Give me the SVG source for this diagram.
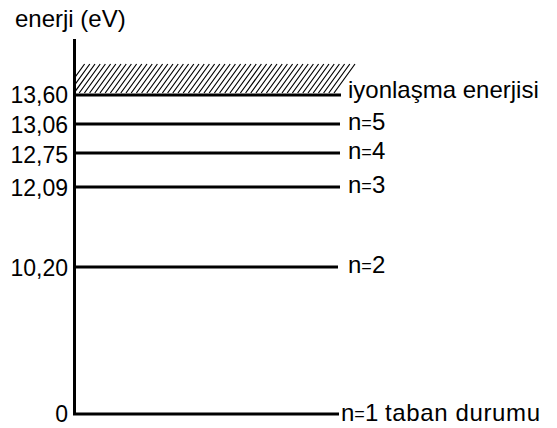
<svg xmlns="http://www.w3.org/2000/svg" width="557" height="428" viewBox="0 0 557 428">
<style>
text{font-family:"Liberation Sans",Arial,sans-serif;font-size:24px;fill:#000}
.l{text-anchor:end;font-size:23px}
.eq{font-size:18px}
.lv{stroke:#000;stroke-width:3;fill:none}
.h{stroke:#000;stroke-width:1.2;fill:none}
</style>
<defs>
<clipPath id="hc"><rect x="75" y="60" width="300" height="36"/></clipPath>
</defs>
<rect width="557" height="428" fill="#fff"/>
<text x="15" y="27">enerji (eV)</text>
<g id="hatch" clip-path="url(#hc)">
<path class="h" d="M334,93 l21,-29 m-26.2,29 l21,-29 m-26.2,29 l21,-29 m-26.2,29 l21,-29 m-26.2,29 l21,-29 m-26.2,29 l21,-29 m-26.2,29 l21,-29 m-26.2,29 l21,-29 m-26.2,29 l21,-29 m-26.2,29 l21,-29 m-26.2,29 l21,-29 m-26.2,29 l21,-29 m-26.2,29 l21,-29 m-26.2,29 l21,-29 m-26.2,29 l21,-29 m-26.2,29 l21,-29 m-26.2,29 l21,-29 m-26.2,29 l21,-29 m-26.2,29 l21,-29 m-26.2,29 l21,-29 m-26.2,29 l21,-29 m-26.2,29 l21,-29 m-26.2,29 l21,-29 m-26.2,29 l21,-29 m-26.2,29 l21,-29 m-26.2,29 l21,-29 m-26.2,29 l21,-29 m-26.2,29 l21,-29 m-26.2,29 l21,-29 m-26.2,29 l21,-29 m-26.2,29 l21,-29 m-26.2,29 l21,-29 m-26.2,29 l21,-29 m-26.2,29 l21,-29 m-26.2,29 l21,-29 m-26.2,29 l21,-29 m-26.2,29 l21,-29 m-26.2,29 l21,-29 m-26.2,29 l21,-29 m-26.2,29 l21,-29 m-26.2,29 l21,-29 m-26.2,29 l21,-29 m-26.2,29 l21,-29 m-26.2,29 l21,-29 m-26.2,29 l21,-29 m-26.2,29 l21,-29 m-26.2,29 l21,-29 m-26.2,29 l21,-29 m-26.2,29 l21,-29 m-26.2,29 l21,-29 m-26.2,29 l21,-29 m-26.2,29 l21,-29 m-26.2,29 l21,-29"/>
</g>
<g id="axis"><path class="lv" d="M74.5,39 V414 H339"/></g>
<g id="levels">
<g id="ion"><path class="lv" d="M74,95 H341"/><text class="l" x="68" y="103">13,60</text><text x="348" y="98">iyonlaşma enerjisi</text></g>
<g id="n5"><path class="lv" d="M74,124 H340"/><text class="l" x="68" y="132.5">13,06</text><text x="348" y="130">n<tspan class="eq" dy="-1.5">=</tspan><tspan dy="1.5">5</tspan></text></g>
<g id="n4"><path class="lv" d="M74,153 H340"/><text class="l" x="68" y="163">12,75</text><text x="348" y="159">n<tspan class="eq" dy="-1.5">=</tspan><tspan dy="1.5">4</tspan></text></g>
<g id="n3"><path class="lv" d="M74,187 H340"/><text class="l" x="68" y="195.5">12,09</text><text x="348" y="193">n<tspan class="eq" dy="-1.5">=</tspan><tspan dy="1.5">3</tspan></text></g>
<g id="n2"><path class="lv" d="M74,267 H338"/><text class="l" x="68" y="275.5">10,20</text><text x="348" y="273">n<tspan class="eq" dy="-1.5">=</tspan><tspan dy="1.5">2</tspan></text></g>
<g id="n1"><text class="l" x="68" y="422">0</text><text x="341" y="421">n<tspan class="eq" dy="-1.5">=</tspan><tspan dy="1.5">1</tspan></text><text x="385" y="421" textLength="155" lengthAdjust="spacing">taban durumu</text></g>
</g>
</svg>
